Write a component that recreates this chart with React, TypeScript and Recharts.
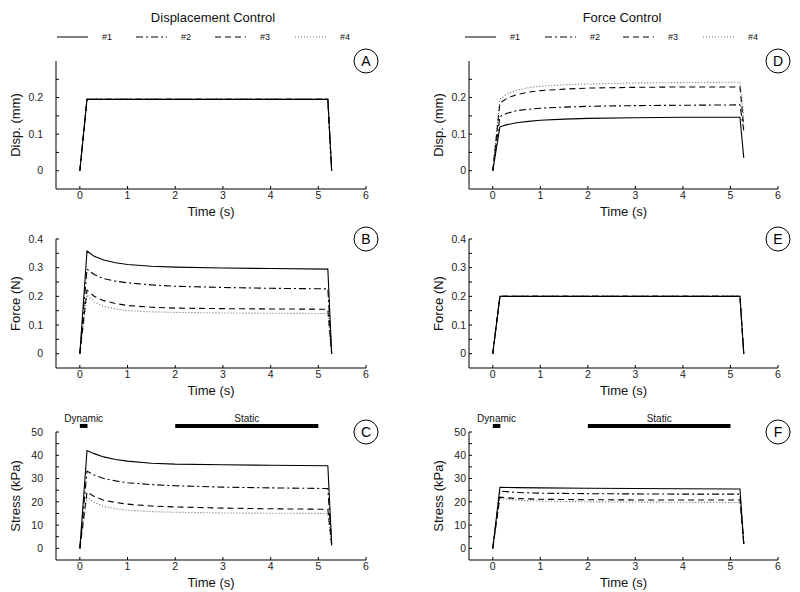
import React from 'react';
import { LineChart, Line, XAxis, YAxis, ReferenceDot, ReferenceLine } from 'recharts';

const FONT = '"Liberation Sans", Arial, Helvetica, sans-serif';

// ---------- data ----------
const seriesNames = ['#1', '#2', '#3', '#4'];

const timeStep = [0, 0.15, 5.2, 5.28];
const dispStep = [0, 0.195, 0.195, 0];
const forceStep = [0, 0.2, 0.2, 0];

const timeRelax = [0, 0.15, 0.3, 0.5, 0.75, 1, 1.5, 2, 3, 4, 5.2, 5.28];

// Panel B: force (N) under displacement control
const forceB1 = [0, 0.358, 0.34, 0.327, 0.317, 0.311, 0.305, 0.302, 0.299, 0.297, 0.295, 0];
const forceB2 = [0, 0.295, 0.276, 0.262, 0.253, 0.247, 0.24, 0.235, 0.231, 0.228, 0.226, 0];
const forceB3 = [0, 0.222, 0.2, 0.185, 0.175, 0.168, 0.162, 0.159, 0.157, 0.156, 0.155, 0];
const forceB4 = [0, 0.205, 0.18, 0.165, 0.156, 0.15, 0.146, 0.144, 0.142, 0.141, 0.14, 0];

// Panel C: stress (kPa) under displacement control
const stressC1 = [0, 42, 40.7, 39.3, 38.2, 37.5, 36.6, 36.2, 35.9, 35.7, 35.5, 2];
const stressC2 = [0, 33.2, 31.5, 30, 29, 28.2, 27.4, 26.9, 26.3, 26, 25.7, 1.5];
const stressC3 = [0, 24.3, 22.3, 20.7, 19.7, 19, 18.2, 17.8, 17.3, 17, 16.8, 1.5];
const stressC4 = [0, 22, 19.8, 18, 17, 16.4, 15.8, 15.5, 15.2, 15.1, 15, 1];

// Panel D: displacement (mm) under force control
const dispD1 = [0, 0.12, 0.126, 0.131, 0.135, 0.138, 0.141, 0.143, 0.145, 0.146, 0.146, 0.035];
const dispD2 = [0, 0.148, 0.157, 0.164, 0.168, 0.171, 0.174, 0.176, 0.178, 0.179, 0.18, 0.11];
const dispD3 = [0, 0.185, 0.198, 0.208, 0.215, 0.219, 0.223, 0.226, 0.228, 0.229, 0.229, 0.12];
const dispD4 = [0, 0.195, 0.21, 0.22, 0.227, 0.231, 0.235, 0.237, 0.24, 0.241, 0.242, 0.15];

// Panel F: stress (kPa) under force control
const timeF = [0, 0.15, 0.5, 1, 2, 3, 4, 5.2, 5.28];
const stressF1 = [0, 26.2, 26.1, 26, 25.8, 25.7, 25.6, 25.5, 2];
const stressF2 = [0, 24.6, 24, 23.7, 23.5, 23.4, 23.3, 23.3, 2];
const stressF3 = [0, 22, 21.4, 21.1, 20.9, 20.8, 20.8, 20.8, 2];
const stressF4 = [0, 21.5, 20.7, 20.3, 20, 19.9, 19.8, 19.7, 2];

// ticks
const xTicks = [0, 1, 2, 3, 4, 5, 6];
const dispTicks = [0, 0.05, 0.1, 0.15, 0.2, 0.25];
const dispLabels = [0, 0.1, 0.2];
const forceTicks = [0, 0.05, 0.1, 0.15, 0.2, 0.25, 0.3, 0.35, 0.4];
const forceLabels = [0, 0.1, 0.2, 0.3, 0.4];
const stressTicks = [0, 5, 10, 15, 20, 25, 30, 35, 40, 45, 50];
const stressLabels = [0, 10, 20, 30, 40, 50];

// phase bars
const phaseNames = ['Dynamic', 'Static'];
const phaseStart = [0, 2];
const phaseEnd = [0.16, 5];

// ---------- styles ----------
const dashes = [undefined, '7 3 2 3', '6 4', '1 2'];
const strokes = ['#000', '#000', '#000', '#666'];

const toPoints = (ts: number[], vs: number[]) => ts.map((t, i) => ({ t, v: vs[i] }));

type PanelProps = {
  plotLeft: number;
  plotTop: number;
  w: number;
  h: number;
  times: number[];
  series: number[][];
  yDomain: [number, number];
  yTicks: number[];
  yLabels: number[];
  yTitle: string;
  letter: string;
  ylabelGap: number;
  yTickMargin: number;
  barY?: number;
};

function Panel(p: PanelProps) {
  const MT = 24, YW = 56, MR = 30, XH = 32;
  const fmtY = (v: number) => (p.yLabels.includes(v) ? String(v) : '');
  const tickStyle = { fontSize: 10.5, fill: '#222', fontFamily: FONT };
  const lx = YW - p.ylabelGap;
  const ly = MT + p.h / 2;
  const yTitleLabel = () => (
    <text
      x={lx}
      y={ly}
      transform={`rotate(-90, ${lx}, ${ly})`}
      textAnchor="middle"
      dominantBaseline="central"
      fontSize={13}
      fill="#111"
      fontFamily={FONT}
    >
      {p.yTitle}
    </text>
  );
  const order = [3, 2, 1, 0];
  return (
    <div style={{ position: 'absolute', left: p.plotLeft - YW, top: p.plotTop - MT }}>
      <LineChart width={YW + p.w + MR} height={MT + p.h + XH} margin={{ top: MT, right: MR, bottom: 0, left: 0 }}>
        <XAxis
          xAxisId="b"
          type="number"
          dataKey="t"
          domain={[-0.5, 6]}
          ticks={xTicks}
          interval={0}
          allowDataOverflow
          height={XH}
          tickSize={-3}
          tickMargin={6}
          tick={tickStyle}
          axisLine={{ stroke: '#000' }}
          tickLine={{ stroke: '#000' }}
          label={{ value: 'Time (s)', position: 'insideBottom', offset: 5, fontSize: 13, fill: '#111', fontFamily: FONT }}
        />
        <XAxis
          xAxisId="t"
          orientation="top"
          type="number"
          dataKey="t"
          domain={[-0.5, 6]}
          ticks={xTicks}
          interval={0}
          allowDataOverflow
          height={0}
          tickSize={-3}
          tick={false}
          axisLine={{ stroke: '#000' }}
          tickLine={{ stroke: '#000' }}
        />
        <YAxis
          yAxisId="l"
          type="number"
          domain={p.yDomain}
          ticks={p.yTicks}
          interval={0}
          allowDataOverflow
          width={YW}
          tickSize={-3}
          tickMargin={p.yTickMargin}
          tickFormatter={fmtY}
          tick={tickStyle}
          axisLine={{ stroke: '#000' }}
          tickLine={{ stroke: '#000' }}
          label={yTitleLabel}
        />
        <YAxis
          yAxisId="r"
          orientation="right"
          type="number"
          domain={p.yDomain}
          ticks={p.yTicks}
          interval={0}
          allowDataOverflow
          width={0}
          tickSize={-3}
          tick={false}
          axisLine={{ stroke: '#000' }}
          tickLine={{ stroke: '#000' }}
        />
        {order.map((i) => (
          <Line
            key={seriesNames[i]}
            name={seriesNames[i]}
            xAxisId="b"
            yAxisId="l"
            data={toPoints(p.times, p.series[i])}
            dataKey="v"
            type="linear"
            stroke={strokes[i]}
            strokeDasharray={dashes[i]}
            strokeWidth={1.1}
            dot={false}
            activeDot={false}
            isAnimationActive={false}
          />
        ))}
        {p.barY !== undefined &&
          phaseNames.map((name, i) => (
            <ReferenceLine
              key={name}
              xAxisId="b"
              yAxisId="l"
              ifOverflow="visible"
              segment={[
                { x: phaseStart[i], y: p.barY as number },
                { x: phaseEnd[i], y: p.barY as number },
              ]}
              stroke="#000"
              strokeWidth={4}
              label={{ value: name, position: 'top', offset: 4, fontSize: 10, fill: '#111', fontFamily: FONT }}
            />
          ))}
        <ReferenceDot
          xAxisId="b"
          yAxisId="l"
          x={6}
          y={p.yDomain[1]}
          r={12}
          fill="#fff"
          stroke="#000"
          strokeWidth={1}
          ifOverflow="visible"
          label={{ value: p.letter, position: 'center', fontSize: 14, fill: '#000', fontFamily: FONT }}
        />
      </LineChart>
    </div>
  );
}

const legendStarts = [[57, 136, 215, 295], [465, 545, 623, 703]];
const titles = ['Displacement Control', 'Force Control'];
const titleCenters = [213, 622];

export default function App() {
  const L = { plotLeft: 56, w: 310, ylabelGap: 41, yTickMargin: 16 };
  const R = { plotLeft: 469, w: 309, ylabelGap: 31, yTickMargin: 6 };
  return (
    <div style={{ position: 'absolute', left: 0, top: 0, width: 800, height: 592, background: '#fff', fontFamily: FONT }}>
      <svg width={800} height={50} style={{ position: 'absolute', left: 0, top: 0 }}>
        {titles.map((t, c) => (
          <text key={t} x={titleCenters[c]} y={17} textAnchor="middle" dominantBaseline="central" fontSize={13} fill="#111" fontFamily={FONT}>
            {t}
          </text>
        ))}
        {legendStarts.map((row, c) =>
          row.map((x0, i) => (
            <g key={`${c}-${i}`}>
              <line x1={x0} x2={x0 + 31} y1={37} y2={37} stroke={strokes[i]} strokeWidth={1} strokeDasharray={dashes[i]} />
              <text x={x0 + 45} y={37} dominantBaseline="central" fontSize={9} fill="#111" fontFamily={FONT}>
                {seriesNames[i]}
              </text>
            </g>
          ))
        )}
      </svg>

      <Panel {...L} plotTop={61} h={128} times={timeStep} series={[dispStep, dispStep, dispStep, dispStep]}
        yDomain={[-0.05, 0.3]} yTicks={dispTicks} yLabels={dispLabels} yTitle="Disp. (mm)" letter="A" />
      <Panel {...L} plotTop={239} h={129} times={timeRelax} series={[forceB1, forceB2, forceB3, forceB4]}
        yDomain={[-0.05, 0.4]} yTicks={forceTicks} yLabels={forceLabels} yTitle="Force (N)" letter="B" />
      <Panel {...L} plotTop={432} h={128} times={timeRelax} series={[stressC1, stressC2, stressC3, stressC4]}
        yDomain={[-5, 50]} yTicks={stressTicks} yLabels={stressLabels} yTitle="Stress (kPa)" letter="C" barY={52.6} />

      <Panel {...R} plotTop={61} h={128} times={timeRelax} series={[dispD1, dispD2, dispD3, dispD4]}
        yDomain={[-0.05, 0.3]} yTicks={dispTicks} yLabels={dispLabels} yTitle="Disp. (mm)" letter="D" />
      <Panel {...R} plotTop={239} h={129} times={timeStep} series={[forceStep, forceStep, forceStep, forceStep]}
        yDomain={[-0.05, 0.4]} yTicks={forceTicks} yLabels={forceLabels} yTitle="Force (N)" letter="E" />
      <Panel {...R} plotTop={432} h={128} times={timeF} series={[stressF1, stressF2, stressF3, stressF4]}
        yDomain={[-5, 50]} yTicks={stressTicks} yLabels={stressLabels} yTitle="Stress (kPa)" letter="F" barY={52.6} />
    </div>
  );
}
